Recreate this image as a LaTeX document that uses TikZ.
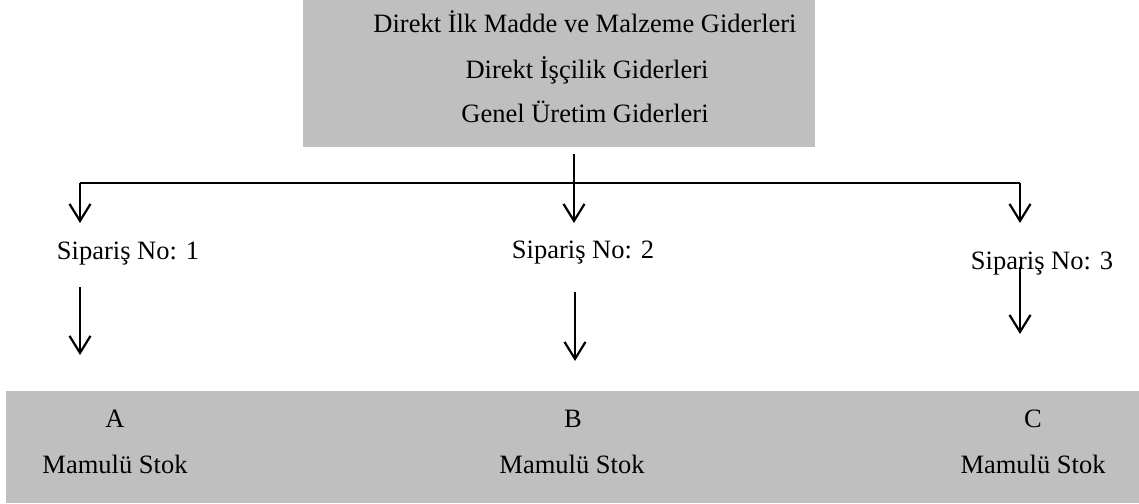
\documentclass[tikz,border=0pt]{standalone}
\usepackage{fontspec}
\setmainfont{Liberation Serif}
\usetikzlibrary{arrows.meta}
\tikzset{
  box/.style={fill=black!25, draw=none, inner sep=0pt},
  lbl/.style={inner sep=0pt, anchor=base, font=\fontsize{26.5}{30}\selectfont},
  conn/.style={line width=2.2pt, black},
  arr/.style={conn, -{Straight Barb[length=17pt,width=21pt]}},
}
\begin{document}
\begin{tikzpicture}[x=1pt,y=-1pt]
\useasboundingbox (0,0) rectangle (1139,503);
% boxes
\node[box, minimum width=512pt, minimum height=147pt] (top) at (559,73.5) {};
\node[box, minimum width=1133pt, minimum height=112pt] (bot) at (572.5,447) {};
% top texts
\node[lbl] (t1) at (585,33) {Direkt İlk Madde ve Malzeme Giderleri};
\node[lbl] (t2) at (587,78) {Direkt İşçilik Giderleri};
\node[lbl] (t3) at (585,122) {Genel Üretim Giderleri};
% order labels
\node[lbl] (s1) at (128,259) {Sipariş No: 1};
\node[lbl] (s2) at (583,258) {Sipariş No: 2};
\node[lbl] (s3) at (1042,269) {Sipariş No: 3};
% bottom texts
\node[lbl] (a) at (115,427) {A};
\node[lbl] (b) at (573,427) {B};
\node[lbl] (c) at (1033,427) {C};
\node[lbl] (ma) at (115,473) {Mamulü Stok};
\node[lbl] (mb) at (572,473) {Mamulü Stok};
\node[lbl] (mc) at (1033,473) {Mamulü Stok};
% connector coordinates
\coordinate (t0) at (574,154);
\coordinate (tm) at (574,223);
\coordinate (hl) at (80,183);
\coordinate (hr) at (1020,183);
\coordinate (e1) at (80,223);
\coordinate (e3) at (1020,223);
\coordinate (d1a) at (80,287);
\coordinate (d1b) at (80,355);
\coordinate (d2a) at (575,292);
\coordinate (d2b) at (575,361);
\coordinate (d3a) at (1020,267);
\coordinate (d3b) at (1020,334);
% connectors
\draw[conn] (hl) -- (hr);
\draw[arr] (t0) -- (tm);
\draw[arr] (hl) -- (e1);
\draw[arr] (hr) -- (e3);
\draw[arr] (d1a) -- (d1b);
\draw[arr] (d2a) -- (d2b);
\draw[arr] (d3a) -- (d3b);
\end{tikzpicture}
\end{document}
